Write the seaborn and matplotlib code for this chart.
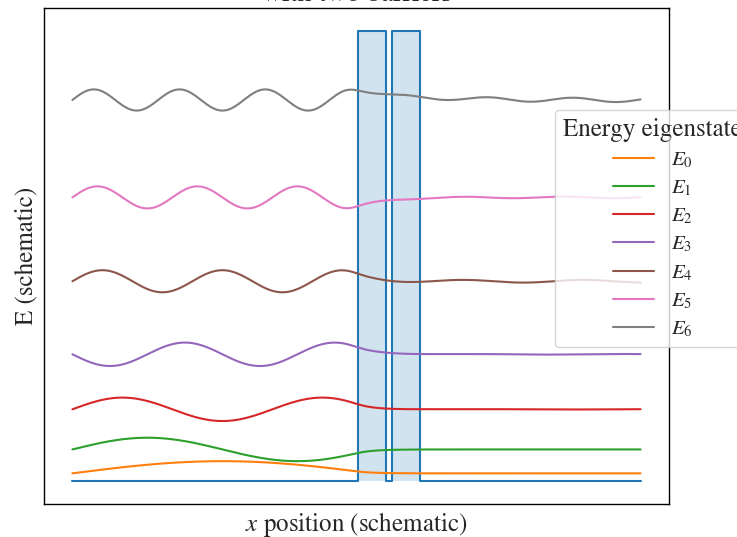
import numpy as np
import pandas as pd
import matplotlib
matplotlib.use("Agg")
import matplotlib.pyplot as plt
import seaborn as sns

# double barrier potential (schematic units)
barrier_left = [5.02, 5.63]
barrier_right = [5.52, 6.12]
barrier_height = 10.0
x_min, x_max = 0.0, 10.0

# eigenstates, values
state_labels = ["$E_0$", "$E_1$", "$E_2$", "$E_3$", "$E_4$", "$E_5$", "$E_6$"]
energies = [0.18, 0.71, 1.60, 2.82, 4.44, 6.30, 8.46]
amplitudes = [0.27, 0.26, 0.26, 0.26, 0.245, 0.245, 0.235]
signs = [1, 1, 1, -1, 1, 1, 1]
decay_len = [0.28, 0.28, 0.28, 0.39, 0.32, 0.48, 0.92]
tail_amp = [0.0, 0.0, 0.004, 0.007, 0.03, 0.018, 0.048]
tail_peak = [7.0, 7.0, 7.0, 7.0, 8.99, 6.88, 7.30]
well_len = 5.28

colors = ["C1", "C2", "C3", "C4", "C5", "C6", "C7"]


def wavefunction(x, n):
    k = (n + 1) * np.pi / well_len
    a = barrier_left[0]
    s = 0.08
    # left oscillation frozen at the barrier edge, then decaying through it
    xc = a - s * np.log1p(np.exp((a - x) / s))
    left = signs[n] * amplitudes[n] * np.sin(k * xc)
    damp = np.exp(-(s / decay_len[n]) * np.log1p(np.exp((x - a) / s)))
    right = tail_amp[n] * np.cos(k * (x - tail_peak[n])) * (1 - damp)
    return energies[n] + left * damp + right


sns.set_style("white")
plt.rcParams["font.family"] = ["STIXGeneral", "DejaVu Serif"]
plt.rcParams["mathtext.fontset"] = "stix"

fig = plt.figure(figsize=(7.37, 5.37), dpi=100)
ax = fig.add_axes([44 / 737, 33 / 537, 625 / 737, 496 / 537])

# potential outline and shading
xv = [x_min]
vv = [0.0]
for bl, br in zip(barrier_left, barrier_right):
    xv += [bl, bl, br, br]
    vv += [0.0, barrier_height, barrier_height, 0.0]
xv.append(x_max)
vv.append(0.0)
ax.plot(xv, vv, color="C0", lw=1.5)
ax.fill_between(xv, vv, 0, color="C0", alpha=0.2, lw=0)

x = np.linspace(x_min, x_max, 1200)
for n, lab in enumerate(state_labels):
    df = pd.DataFrame({"x": x, "psi": wavefunction(x, n)})
    sns.lineplot(data=df, x="x", y="psi", color=colors[n], label=lab,
                 lw=1.5, estimator=None, ax=ax)

ax.set_xticks([])
ax.set_yticks([])
ax.set_xlabel("$x$ position (schematic)", fontsize=18)
ax.set_ylabel("E (schematic)", fontsize=18)
ax.set_title("Schematic energy eigenstates\nwith two barriers", fontsize=20, pad=5.2)
for sp in ax.spines.values():
    sp.set_color("black")
    sp.set_linewidth(1.0)

ax.legend(title="Energy eigenstate", fontsize=15, title_fontsize=18,
          labelspacing=0.4, loc="upper left", bbox_to_anchor=(0.8176, 0.7944),
          borderaxespad=0)

fig.savefig("out.png", dpi=100)
